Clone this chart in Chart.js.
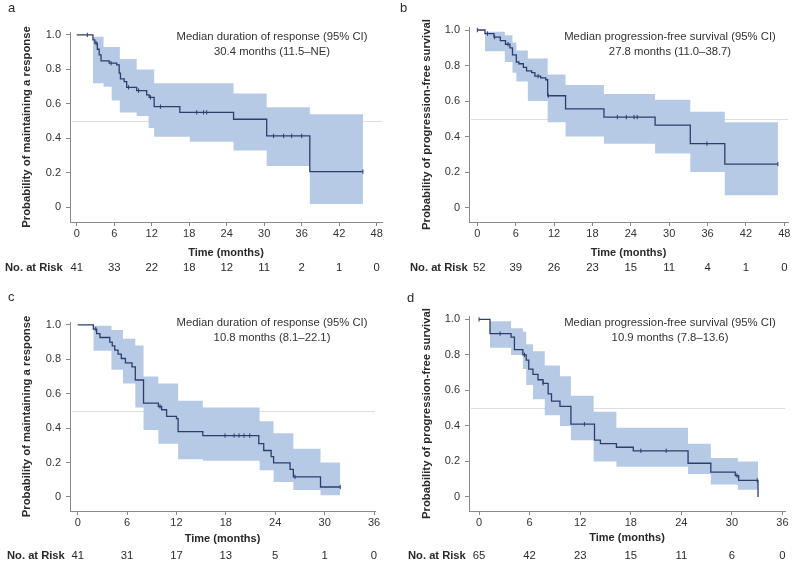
<!DOCTYPE html>
<html>
<head>
<meta charset="utf-8">
<script src="https://cdn.jsdelivr.net/npm/chart.js@4.4.1/dist/chart.umd.min.js"></script>
<style>
  body { margin: 0; background: #fff; width: 800px; height: 568px; position: relative; overflow: hidden; }
  canvas { position: absolute; }
</style>
</head>
<body>
<canvas id="chartA" width="400" height="284" style="left:0;top:0"></canvas>
<canvas id="chartB" width="400" height="284" style="left:400px;top:0"></canvas>
<canvas id="chartC" width="400" height="284" style="left:0;top:284px"></canvas>
<canvas id="chartD" width="400" height="284" style="left:400px;top:284px"></canvas>
<script>
const xTicks48 = [0, 6, 12, 18, 24, 30, 36, 42, 48];
const xTicks36 = [0, 6, 12, 18, 24, 30, 36];
const yTicks = [0, 0.2, 0.4, 0.6, 0.8, 1.0];

// a - duration of response
const aTime = [0, 2.6, 2.9, 3.3, 3.6, 3.9, 5.2, 6.4, 6.8, 7.0, 7.6, 8.0, 9.6, 11.2, 11.6, 12.4, 16.5, 25.1, 30.4, 37.3, 45.8];
const aSurv = [1.0, 0.971, 0.952, 0.917, 0.884, 0.849, 0.836, 0.826, 0.778, 0.745, 0.729, 0.696, 0.677, 0.652, 0.638, 0.584, 0.551, 0.511, 0.414, 0.207, 0.207];
const aBandTime = [2.6, 4.3, 5.6, 6.9, 9.6, 11.5, 12.4, 18.1, 25.1, 30.4, 37.3, 45.8];
const aUpper = [0.99, 0.93, 0.93, 0.86, 0.80, 0.80, 0.72, 0.72, 0.66, 0.58, 0.54, 0.54];
const aLower = [0.72, 0.70, 0.62, 0.55, 0.53, 0.46, 0.41, 0.38, 0.33, 0.24, 0.02, 0.02];
const aCensor = [1.7, 3.1, 5.5, 8.3, 9.9, 11.8, 13.4, 19.2, 20.3, 20.8, 31.5, 33.1, 34.4, 36.0, 45.8];
const aRisk = [41, 33, 22, 18, 12, 11, 2, 1, 0];

// b - progression-free survival
const bTime = [0, 1.2, 2.6, 3.6, 4.4, 5.1, 5.5, 6.1, 6.5, 7.2, 7.7, 8.5, 9.0, 9.9, 10.7, 11.0, 13.8, 19.8, 27.8, 33.3, 38.7, 47.0];
const bSurv = [1.0, 0.98, 0.96, 0.94, 0.92, 0.90, 0.86, 0.82, 0.81, 0.79, 0.77, 0.76, 0.74, 0.73, 0.72, 0.63, 0.556, 0.51, 0.465, 0.36, 0.245, 0.245];
const bBandTime = [1.2, 4.3, 5.5, 6.1, 7.9, 11.0, 13.8, 19.8, 27.8, 33.3, 38.7, 47.0];
const bUpper = [0.99, 0.97, 0.93, 0.885, 0.84, 0.75, 0.69, 0.64, 0.607, 0.54, 0.48, 0.48];
const bLower = [0.88, 0.82, 0.76, 0.71, 0.60, 0.48, 0.40, 0.36, 0.305, 0.20, 0.07, 0.07];
const bCensor = [0, 1.6, 2.7, 4.8, 9.5, 11.1, 21.9, 23.3, 24.5, 25.0, 35.9, 47.0];
const bRisk = [52, 39, 26, 23, 15, 11, 4, 1, 0];

// c - duration of response
const cTime = [0, 1.9, 2.3, 2.7, 3.9, 4.2, 4.5, 4.9, 5.3, 5.8, 6.6, 7.0, 8.0, 9.8, 10.2, 10.8, 12.0, 12.2, 15.2, 22.0, 22.6, 23.5, 23.8, 25.8, 26.2, 29.5, 31.9];
const cSurv = [1.0, 0.976, 0.95, 0.927, 0.90, 0.878, 0.854, 0.83, 0.805, 0.78, 0.756, 0.68, 0.546, 0.526, 0.507, 0.468, 0.455, 0.38, 0.357, 0.31, 0.27, 0.235, 0.198, 0.16, 0.117, 0.058, 0.058];
const cBandTime = [1.9, 4.1, 5.5, 7.0, 8.0, 9.8, 12.2, 15.2, 22.1, 23.8, 26.2, 29.5, 31.9];
const cUpper = [0.995, 0.97, 0.92, 0.88, 0.70, 0.66, 0.56, 0.52, 0.44, 0.37, 0.28, 0.20, 0.20];
const cLower = [0.85, 0.74, 0.66, 0.52, 0.39, 0.31, 0.22, 0.21, 0.155, 0.087, 0.04, 0.01, 0.01];
const cCensor = [2.2, 10.0, 17.9, 19.0, 19.6, 20.2, 20.9, 26.4, 31.9];
const cRisk = [41, 31, 17, 13, 5, 1, 0];

// d - progression-free survival
const dTime = [0, 1.3, 3.8, 4.2, 5.2, 5.6, 5.9, 6.4, 7.0, 7.6, 8.2, 8.6, 9.6, 10.9, 13.7, 14.4, 16.3, 18.3, 24.8, 27.5, 30.4, 30.8, 33.1, 33.1];
const dSurv = [1.0, 0.92, 0.90, 0.83, 0.80, 0.77, 0.72, 0.69, 0.66, 0.64, 0.58, 0.54, 0.51, 0.41, 0.32, 0.30, 0.28, 0.26, 0.19, 0.14, 0.12, 0.094, 0.094, 0];
const dBandTime = [1.3, 3.8, 5.2, 5.6, 6.4, 7.8, 9.6, 10.9, 13.6, 16.3, 24.8, 27.5, 30.7, 33.1];
const dUpper = [0.99, 0.95, 0.93, 0.86, 0.82, 0.74, 0.68, 0.57, 0.48, 0.39, 0.30, 0.22, 0.20, 0.20];
const dLower = [0.84, 0.80, 0.72, 0.63, 0.55, 0.46, 0.40, 0.32, 0.20, 0.17, 0.13, 0.07, 0.04, 0.04];
const dCensor = [0, 2.5, 5.4, 7.6, 12.5, 19.2, 22.2, 30.6, 33.0];
const dRisk = [65, 42, 23, 15, 11, 6, 0];

const FONT = '"Liberation Sans", Arial, sans-serif';
const BAND = '#b6cae6';
const LINE = '#2b3f6d';
const AXIS = '#8a8a8a';
const TEXT = '#2a2a2a';

Chart.defaults.font.family = FONT;
Chart.defaults.color = TEXT;

function pts(t, v) { return t.map((x, i) => ({ x: x, y: v[i] })); }

// step value at time x (value after any drop at x)
function survAt(t, v, x) {
  let s = v[0];
  for (let i = 0; i < t.length; i++) if (t[i] <= x) s = v[i];
  return s;
}

// reference line at 0.5, panel letter, median note, risk table
const panelText = {
  id: 'panelText',
  beforeDatasetsDraw(chart, args, o) {
    const { ctx, chartArea: a, scales: { y } } = chart;
    const yy = Math.round(y.getPixelForValue(0.5)) + 0.5;
    ctx.save();
    ctx.strokeStyle = '#dddddd';
    ctx.lineWidth = 1;
    ctx.beginPath(); ctx.moveTo(a.left + 2, yy); ctx.lineTo(a.right, yy); ctx.stroke();
    ctx.restore();
  },
  afterDraw(chart, args, o) {
    const { ctx, scales: { x } } = chart;
    ctx.save();
    ctx.fillStyle = TEXT;
    ctx.textBaseline = 'alphabetic';
    ctx.font = '13px ' + FONT;
    ctx.fillText(o.tag, o.tagX, o.tagY);

    ctx.font = '11.3px ' + FONT;
    ctx.fillStyle = '#333';
    ctx.textAlign = 'center';
    ctx.textBaseline = 'middle';
    ctx.fillText(o.note[0], o.noteX, o.noteY);
    ctx.fillText(o.note[1], o.noteX, o.noteY + 15);

    ctx.fillStyle = TEXT;
    ctx.textAlign = 'left';
    ctx.font = 'bold 11.2px ' + FONT;
    ctx.fillText('No. at Risk', o.riskX, o.riskY);
    ctx.font = '11.3px ' + FONT;
    ctx.textAlign = 'center';
    o.ticks.forEach((t, i) => ctx.fillText(String(o.risk[i]), x.getPixelForValue(t) + (i === 0 ? o.firstShift : 0), o.riskY));
    ctx.restore();
  }
};

function makePanel(id, p) {
  const [L, R, T, B] = p.area;
  new Chart(document.getElementById(id), {
    type: 'line',
    data: {
      datasets: [
        { data: pts(p.time, p.surv), stepped: true, borderColor: LINE, borderWidth: 1.3, pointRadius: 0, fill: false },
        { data: p.censor.map(t => ({ x: t, y: survAt(p.time, p.surv, t) })), showLine: false,
          pointStyle: 'line', rotation: 90, pointRadius: 2.2, borderColor: LINE, borderWidth: 1, fill: false },
        { data: pts(p.bandTime, p.upper), stepped: true, borderWidth: 0, borderColor: 'rgba(0,0,0,0)', pointRadius: 0, fill: false },
        { data: pts(p.bandTime, p.lower), stepped: true, borderWidth: 0, borderColor: 'rgba(0,0,0,0)', pointRadius: 0, fill: '-1', backgroundColor: BAND }
      ]
    },
    options: {
      responsive: false,
      animation: false,
      events: [],
      layout: { padding: { left: 18, right: 400 - R, top: T, bottom: 284 - B - p.xh } },
      plugins: {
        legend: { display: false },
        tooltip: { enabled: false },
        panelText: { tag: p.tag, tagX: p.tagPos[0], tagY: p.tagPos[1], note: p.note, noteX: p.notePos[0], noteY: p.notePos[1],
                     riskX: p.riskPos[0], riskY: p.riskPos[1], risk: p.risk, ticks: p.ticks, firstShift: p.firstShift || 0 }
      },
      scales: {
        x: {
          type: 'linear', min: p.xRange[0], max: p.xRange[1],
          afterFit: s => { s.height = p.xh; },
          afterBuildTicks: s => { s.ticks = p.ticks.map(v => ({ value: v })); },
          grid: { display: true, drawOnChartArea: false, drawTicks: true, tickLength: 4, color: AXIS },
          border: { display: true, color: AXIS, width: 1 },
          ticks: { padding: 1, color: '#333', font: { size: 11 }, maxRotation: 0, autoSkip: false },
          title: { display: true, text: 'Time (months)', color: TEXT, font: { size: 11, weight: 'bold' }, padding: { top: 0, bottom: 0 } }
        },
        y: {
          min: p.yRange[0], max: p.yRange[1],
          afterFit: s => { s.width = L - 18; },
          afterBuildTicks: s => { s.ticks = yTicks.map(v => ({ value: v })); },
          grid: { display: true, drawOnChartArea: false, drawTicks: true, tickLength: 4, color: AXIS },
          border: { display: true, color: AXIS, width: 1 },
          ticks: { padding: 5, color: '#333', font: { size: 11 }, callback: v => v === 0 ? '0' : v.toFixed(1) },
          title: { display: true, text: p.yTitle, color: TEXT, font: { size: 11.3, weight: 'bold' }, padding: { top: 2, bottom: 0 } }
        }
      }
    },
    plugins: [panelText]
  });
}

makePanel('chartA', {
  time: aTime, surv: aSurv, bandTime: aBandTime, upper: aUpper, lower: aLower, censor: aCensor, risk: aRisk, ticks: xTicks48,
  area: [70, 382, 32, 222], xRange: [-1.07, 48.85], yRange: [-0.085, 1.017], xh: 38,
  yTitle: 'Probability of maintaining a response', tag: 'a', tagPos: [8, 12],
  note: ['Median duration of response (95% CI)', '30.4 months (11.5\u2013NE)'], notePos: [272, 37], riskPos: [5, 268]
});

makePanel('chartB', {
  time: bTime, surv: bSurv, bandTime: bBandTime, upper: bUpper, lower: bLower, censor: bCensor, risk: bRisk, ticks: xTicks48,
  area: [69, 388, 27, 222], xRange: [-1.3, 48.58], yRange: [-0.081, 1.017], xh: 38,
  yTitle: 'Probability of progression-free survival', tag: 'b', tagPos: [0, 12],
  note: ['Median progression-free survival (95% CI)', '27.8 months (11.0\u201338.7)'], notePos: [270, 37], riskPos: [10, 268], firstShift: 2
});

makePanel('chartC', {
  time: cTime, surv: cSurv, bandTime: cBandTime, upper: cUpper, lower: cLower, censor: cCensor, risk: cRisk, ticks: xTicks36,
  area: [70, 375, 38, 227], xRange: [-0.935, 36.12], yRange: [-0.0815, 1.017], xh: 35,
  yTitle: 'Probability of maintaining a response', tag: 'c', tagPos: [8, 17],
  note: ['Median duration of response (95% CI)', '10.8 months (8.1\u201322.1)'], notePos: [272, 39], riskPos: [7, 272]
});

makePanel('chartD', {
  time: dTime, surv: dSurv, bandTime: dBandTime, upper: dUpper, lower: dLower, censor: dCensor, risk: dRisk, ticks: xTicks36,
  area: [69, 385, 32, 227], xRange: [-1.19, 36.3], yRange: [-0.079, 1.019], xh: 34,
  yTitle: 'Probability of progression-free survival', tag: 'd', tagPos: [7, 18],
  note: ['Median progression-free survival (95% CI)', '10.9 months (7.8\u201313.6)'], notePos: [270, 39], riskPos: [8, 272]
});
</script>
</body>
</html>
